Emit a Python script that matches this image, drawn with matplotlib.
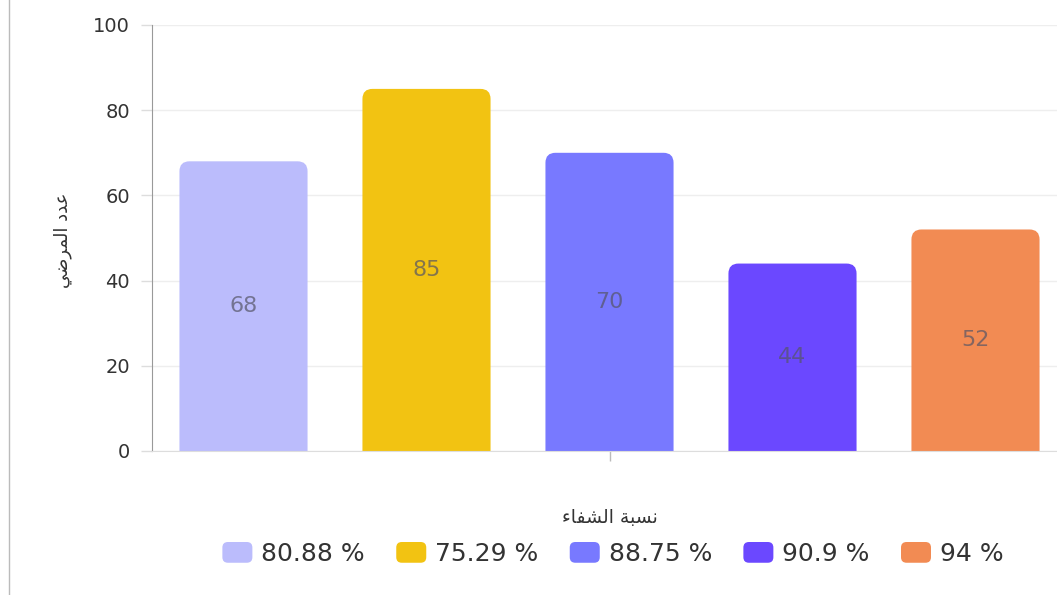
import matplotlib
matplotlib.use("Agg")
import matplotlib.pyplot as plt
from matplotlib.path import Path
from matplotlib.patches import PathPatch, FancyBboxPatch
from matplotlib.legend_handler import HandlerPatch
import numpy as np

# ---- data ----
series_labels = ["80.88 %", "75.29 %", "88.75 %", "90.9 %", "94 %"]
values = [68, 85, 70, 44, 52]
colors = ["#BBBCFC", "#F2C312", "#7879FF", "#6B48FF", "#F28B53"]
y_ticks = [0, 20, 40, 60, 80, 100]

# Arabic text in visual order using presentation forms (no shaping engine in matplotlib)
xlabel_text = "\uFE80\uFE8E\uFED4\uFEB8\uFEDF\uFE8D \uFE94\uFE92\uFEB4\uFEE7"   # نسبة الشفاء
ylabel_text = "\uFEF2\uFEBF\uFEAE\uFEE4\uFEDF\uFE8D \uFEA9\uFEAA\uFECB"         # عدد المرضي

plt.rcParams['font.family'] = ['DejaVu Sans']

W, H = 1057, 595
fig = plt.figure(figsize=(W / 100, H / 100), dpi=100)
fig.patch.set_facecolor("white")

ax_left, ax_right, ax_top, ax_bottom = 152, 1067, 25, 451
ax = fig.add_axes([ax_left / W, 1 - ax_bottom / H, (ax_right - ax_left) / W, (ax_bottom - ax_top) / H])

x = np.arange(len(values))
bars = ax.bar(x, values, width=0.7, color=colors, label=series_labels)
ax.set_xlim(-0.5, len(values) - 0.5)
ax.set_ylim(0, 100)

# replace bar rectangles by rounded-top paths
px_per_x = (ax_right - ax_left) / len(values)
px_per_y = (ax_bottom - ax_top) / 100.0
r_px = 10
rx, ry = r_px / px_per_x, r_px / px_per_y
for rect, c in zip(bars.patches, colors):
    x0, y0 = rect.get_x(), rect.get_y()
    x1, y1 = x0 + rect.get_width(), y0 + rect.get_height()
    verts = [(x0, y0), (x0, y1 - ry), (x0, y1), (x0 + rx, y1), (x1 - rx, y1),
             (x1, y1), (x1, y1 - ry), (x1, y0), (x0, y0)]
    codes = [Path.MOVETO, Path.LINETO, Path.CURVE3, Path.CURVE3, Path.LINETO,
             Path.CURVE3, Path.CURVE3, Path.LINETO, Path.CLOSEPOLY]
    rect.set_visible(False)
    ax.add_patch(PathPatch(Path(verts, codes), facecolor=c, edgecolor="none", zorder=2))

# value labels in the middle of bars
for xi, v in zip(x, values):
    ax.text(xi, v / 2, f"{v}", ha="center", va="center", fontsize=16,
            color="#555566", alpha=0.7, zorder=3)

# axes styling
ax.set_yticks(y_ticks)
ax.set_yticklabels([str(t) for t in y_ticks], fontsize=14, color="#333333")
ax.tick_params(axis="y", length=8, width=1, color="#dddddd", pad=8)
ax.set_xticks([(len(values) - 1) / 2])
ax.set_xticklabels([""])
ax.tick_params(axis="x", length=7, width=1, color="#bbbbbb")
ax.grid(axis="y", color="#eeeeee", linewidth=1, zorder=0)
ax.set_axisbelow(True)
for s in ["top", "right"]:
    ax.spines[s].set_visible(False)
ax.spines["left"].set_color("#999999")
ax.spines["bottom"].set_color("#dddddd")

fig.text(610 / W, 1 - 517 / H, xlabel_text, ha="center", va="center", fontsize=13.5, color="#333333")
fig.text(63 / W, 1 - 240 / H, ylabel_text, ha="center", va="center", fontsize=13,
         color="#333333", rotation=90)

# left border line
fig.add_artist(plt.Line2D([9 / W, 9 / W], [0, 1], color="#bbbbbb", linewidth=1))


class RoundHandler(HandlerPatch):
    def create_artists(self, legend, orig_handle, xdescent, ydescent, width, height, fontsize, trans):
        p = FancyBboxPatch((-xdescent, -ydescent), width, height,
                           boxstyle="round,pad=0,rounding_size=4",
                           facecolor=orig_handle.get_facecolor(), edgecolor="none", transform=trans)
        return [p]


handles = [plt.Rectangle((0, 0), 1, 1, facecolor=c) for c in colors]
leg = fig.legend(handles, series_labels, loc="center", bbox_to_anchor=(613 / W, 1 - 554 / H),
                 ncol=5, frameon=False, fontsize=18, handlelength=1.2, handleheight=0.9,
                 handletextpad=0.36, columnspacing=1.25,
                 handler_map={plt.Rectangle: RoundHandler()})
for t in leg.get_texts():
    t.set_color("#333333")

fig.savefig("out.png", dpi=100, facecolor="white")
